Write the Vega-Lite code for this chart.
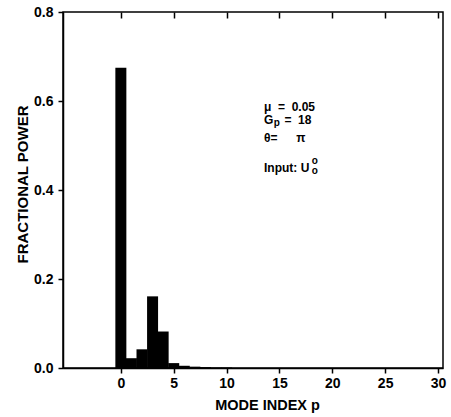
{
  "$schema": "https://vega.github.io/schema/vega-lite/v6.json",
  "autosize": "none",
  "width": 380,
  "height": 356,
  "padding": {"left": 63, "top": 12, "right": 8, "bottom": 49},
  "background": "white",
  "config": {
    "view": {"stroke": "black", "strokeWidth": 1.5},
    "font": "Liberation Sans"
  },
  "datasets": {
    "bars": [
      {"p": 0, "power": 0.675},
      {"p": 1, "power": 0.022},
      {"p": 2, "power": 0.042},
      {"p": 3, "power": 0.161},
      {"p": 4, "power": 0.082},
      {"p": 5, "power": 0.011},
      {"p": 6, "power": 0.005},
      {"p": 7, "power": 0.003},
      {"p": 8, "power": 0.002},
      {"p": 9, "power": 0.001},
      {"p": 10, "power": 0.001}
    ],
    "main": [
      {"x": 13.54, "y": 0.578, "label": "μ\u00a0\u00a0=\u00a0\u00a00.05"},
      {"x": 13.54, "y": 0.548, "label": "G"},
      {"x": 15.47, "y": 0.548, "label": "=\u00a0\u00a018"},
      {"x": 13.54, "y": 0.5085, "label": "θ="},
      {"x": 16.58, "y": 0.5085, "label": "π"},
      {"x": 13.54, "y": 0.4398, "label": "Input: U"}
    ],
    "small": [
      {"x": 14.46, "y": 0.5427, "label": "p"},
      {"x": 18.05, "y": 0.458, "label": "o"},
      {"x": 18.05, "y": 0.437, "label": "o"}
    ]
  },
  "layer": [
    {
      "data": {"name": "bars"},
      "mark": {"type": "bar", "color": "black", "size": 11},
      "encoding": {
        "x": {
          "field": "p", "type": "quantitative",
          "scale": {"domain": [-5, 30], "nice": false, "zero": false},
          "axis": {
            "values": [0, 5, 10, 15, 20, 25, 30],
            "title": "MODE INDEX p",
            "titleFontSize": 14.5, "titleFontWeight": "bold", "titleColor": "black",
            "titleX": 204, "titlePadding": 8,
            "labelFontSize": 14, "labelFontWeight": "bold", "labelColor": "black",
            "labelPadding": 3,
            "tickColor": "black", "tickSize": 5, "tickWidth": 1.5,
            "domainColor": "black", "domainWidth": 1.5,
            "grid": false, "labelFlush": false
          }
        },
        "y": {
          "field": "power", "type": "quantitative",
          "scale": {"domain": [0, 0.8], "nice": false},
          "axis": {
            "values": [0, 0.2, 0.4, 0.6, 0.8],
            "format": ".1f",
            "title": "FRACTIONAL POWER",
            "titleFontSize": 15, "titleFontWeight": "bold", "titleColor": "black",
            "titleY": 172, "titlePadding": 3,
            "labelFontSize": 14, "labelFontWeight": "bold", "labelColor": "black",
            "labelPadding": 5,
            "tickColor": "black", "tickSize": 5, "tickWidth": 1.5,
            "domainColor": "black", "domainWidth": 1.5,
            "grid": false, "labelFlush": false
          }
        }
      }
    },
    {
      "data": {"name": "main"},
      "mark": {"type": "text", "align": "left", "baseline": "alphabetic", "fontSize": 12, "fontWeight": "bold", "color": "black"},
      "encoding": {
        "x": {"field": "x", "type": "quantitative", "axis": null},
        "y": {"field": "y", "type": "quantitative"},
        "text": {"field": "label"}
      }
    },
    {
      "data": {"name": "small"},
      "mark": {"type": "text", "align": "left", "baseline": "alphabetic", "fontSize": 10, "fontWeight": "bold", "color": "black"},
      "encoding": {
        "x": {"field": "x", "type": "quantitative", "axis": null},
        "y": {"field": "y", "type": "quantitative"},
        "text": {"field": "label"}
      }
    },
    {
      "data": {"values": [{"v": 0}]},
      "mark": {"type": "rule", "opacity": 0},
      "encoding": {
        "x": {
          "field": "v", "type": "quantitative",
          "axis": {
            "orient": "top", "values": [0, 5, 10, 15, 20, 25, 30],
            "labels": false, "title": null, "domain": false,
            "tickColor": "black", "tickSize": -6, "tickWidth": 1.5, "grid": false
          }
        }
      }
    }
  ],
  "resolve": {"axis": {"x": "independent"}}
}
